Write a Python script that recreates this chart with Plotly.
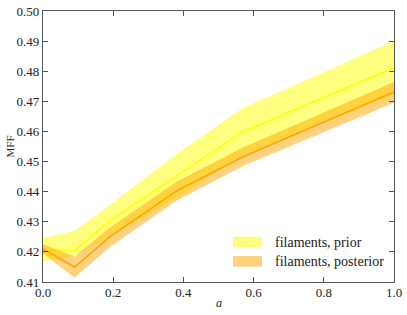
import plotly.graph_objects as go

a_vals = [0.0, 0.09, 0.19, 0.38, 0.57, 1.0]

prior_mean = [0.4205, 0.4204, 0.4303, 0.4452, 0.4599, 0.4812]
prior_upper = [0.4245, 0.4270, 0.4355, 0.4524, 0.4678, 0.4900]
prior_lower = [0.4168, 0.4186, 0.4250, 0.4380, 0.4520, 0.4721]

post_mean = [0.4210, 0.4149, 0.4250, 0.4402, 0.4516, 0.4731]
post_upper = [0.4225, 0.4185, 0.4280, 0.4433, 0.4547, 0.4764]
post_lower = [0.4195, 0.4114, 0.4215, 0.4370, 0.4485, 0.4695]

series_names = ["filaments, prior", "filaments, posterior"]

x_ticks = [0.0, 0.2, 0.4, 0.6, 0.8, 1.0]
x_ticklabels = ["0.0", "0.2", "0.4", "0.6", "0.8", "1.0"]
y_ticks = [0.41, 0.42, 0.43, 0.44, 0.45, 0.46, 0.47, 0.48, 0.49, 0.50]
y_ticklabels = ["0.41", "0.42", "0.43", "0.44", "0.45", "0.46", "0.47", "0.48", "0.49", "0.50"]

FONT = "Liberation Serif"
TXT = "#222222"
PRIOR_FILL = "rgba(255,255,0,0.5)"
POST_FILL = "rgba(255,165,0,0.5)"

fig = go.Figure()

# prior band
fig.add_trace(go.Scatter(x=a_vals, y=prior_lower, mode="lines", line=dict(width=0),
                         showlegend=False, hoverinfo="skip"))
fig.add_trace(go.Scatter(x=a_vals, y=prior_upper, mode="lines", line=dict(width=0),
                         fill="tonexty", fillcolor=PRIOR_FILL,
                         name=series_names[0], showlegend=False))
fig.add_trace(go.Scatter(x=a_vals, y=prior_mean, mode="lines",
                         line=dict(color="#ffff00", width=1.5), showlegend=False))

# posterior band
fig.add_trace(go.Scatter(x=a_vals, y=post_lower, mode="lines", line=dict(width=0),
                         showlegend=False, hoverinfo="skip"))
fig.add_trace(go.Scatter(x=a_vals, y=post_upper, mode="lines", line=dict(width=0),
                         fill="tonexty", fillcolor=POST_FILL,
                         name=series_names[1], showlegend=False))
fig.add_trace(go.Scatter(x=a_vals, y=post_mean, mode="lines",
                         line=dict(color="#ffa500", width=1.5), showlegend=False))

axis_common = dict(showgrid=False, zeroline=False, showline=True, linecolor="#555555",
                   linewidth=1.2, mirror="ticks", ticks="inside", ticklen=5,
                   tickcolor="#555555", tickwidth=1, automargin=False,
                   tickfont=dict(family=FONT, size=13, color=TXT))

fig.update_xaxes(range=[0, 1], tickvals=x_ticks, ticktext=x_ticklabels,
                 ticklabelstandoff=-2, **axis_common)
fig.update_yaxes(range=[0.41, 0.50], tickvals=y_ticks, ticktext=y_ticklabels, **axis_common)

fig.add_annotation(x=0.5, y=0, xref="paper", yref="paper", yshift=-21,
                   text="<i>a</i>", showarrow=False, yanchor="middle",
                   font=dict(family=FONT, size=12, color=TXT))
fig.add_annotation(x=0, y=0.5, xref="paper", yref="paper", xshift=-34,
                   text="MFF", showarrow=False, textangle=-90, xanchor="center",
                   font=dict(family=FONT, size=11, color=TXT))

# legend (drawn manually to match swatch shape)
legend_rows = [(series_names[0], PRIOR_FILL, 0.128, 0.167),
               (series_names[1], POST_FILL, 0.0565, 0.0959)]
for name, col, y0, y1 in legend_rows:
    fig.add_shape(type="rect", xref="paper", yref="paper", x0=0.5413, x1=0.6239,
                  y0=y0, y1=y1, fillcolor=col, line=dict(width=0), layer="above")
    fig.add_annotation(x=0.655, y=(y0 + y1) / 2, xref="paper", yref="paper",
                       text=name, showarrow=False, xanchor="left", yanchor="middle",
                       font=dict(family=FONT, size=14, color=TXT))

fig.update_layout(
    width=407, height=315,
    margin=dict(l=43, r=13, t=11, b=33),
    paper_bgcolor="white", plot_bgcolor="white",
    showlegend=False,
)

fig.write_html("out.html", config={"displayModeBar": False},
               post_script="document.body.style.margin='0';")
